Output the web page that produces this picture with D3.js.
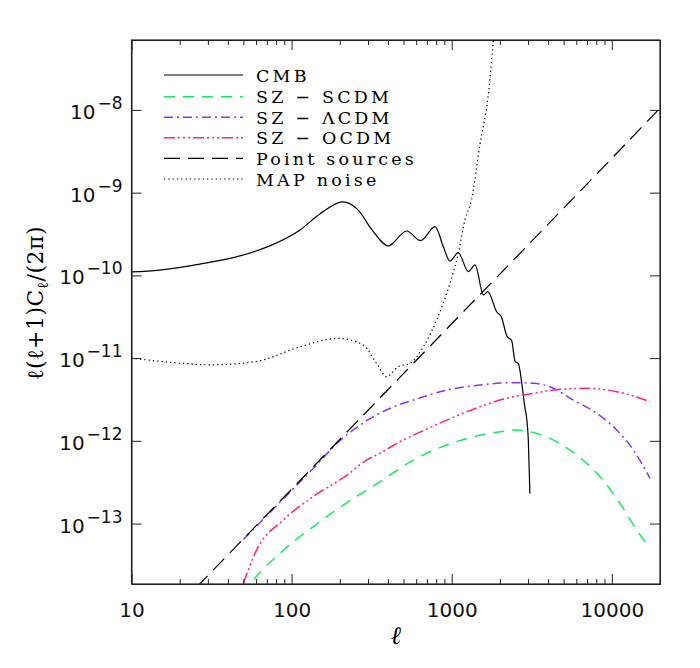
<!DOCTYPE html>
<html>
<head>
<meta charset="utf-8">
<script src="https://cdn.jsdelivr.net/npm/d3@7"></script>
<style>
  body { margin: 0; background: #fff; }
  svg { display: block; }
  .tick text { font-family: "DejaVu Sans", sans-serif; font-size: 20px; fill: #111; }
  .axis path, .axis line { stroke: #222; }
</style>
</head>
<body>
<div class="chart"></div>
<script>
// values: multipole l and l(l+1)C_l/(2pi)
var cmbL = [10, 15, 26.7, 47.5, 73, 113, 150, 209, 260, 318, 402, 523, 640, 787, 887, 975, 1099, 1271, 1400, 1578, 1680, 1910, 2050, 2210, 2370, 2490, 2610, 2740, 2870, 2940, 3010, 3080];
var cmbV = [1.10e-10, 1.16e-10, 1.37e-10, 1.72e-10, 2.27e-10, 3.54e-10, 5.52e-10, 7.73e-10, 6.18e-10, 3.54e-10, 2.27e-10, 3.44e-10, 2.63e-10, 3.88e-10, 2.22e-10, 1.49e-10, 1.88e-10, 1.11e-10, 1.34e-10, 5.79e-11, 6.35e-11, 3.63e-11, 3.1e-11, 1.85e-11, 1.62e-11, 9.1e-12, 8.6e-12, 4.95e-12, 2.47e-12, 1.87e-12, 1.02e-12, 2.3e-13];

var scdmL = [50, 56, 84.5, 136, 226, 356, 576, 931, 1500, 2200, 2430, 2870, 4110, 6040, 8450, 11270, 14330, 17330];
var scdmV = [1.35e-14, 1.9e-14, 4.36e-14, 9.14e-14, 1.84e-13, 3.2e-13, 5.86e-13, 8.9e-13, 1.17e-12, 1.32e-12, 1.35e-12, 1.32e-12, 1.07e-12, 6.73e-13, 3.68e-13, 1.75e-13, 8.34e-14, 5.0e-14];

var lcdmL = [50, 70, 97.5, 136, 200, 294, 464, 576, 931, 1500, 2430, 3240, 4110, 5750, 8050, 10740, 13650, 17330];
var lcdmV = [6.4e-14, 1.25e-13, 2.4e-13, 4.6e-13, 1.0e-12, 1.75e-12, 2.71e-12, 3.11e-12, 4.11e-12, 4.73e-12, 5.05e-12, 4.95e-12, 4.5e-12, 3.11e-12, 2.15e-12, 1.35e-12, 7.74e-13, 3.52e-13];

var ocdmL = [50, 60.4, 88.6, 136, 222, 294, 356, 473, 576, 931, 1500, 2000, 2430, 3240, 4750, 6985, 10740, 17330];
var ocdmV = [1.9e-14, 4.78e-14, 1.1e-13, 2.11e-13, 3.86e-13, 5.86e-13, 7.06e-13, 9.75e-13, 1.17e-12, 1.78e-12, 2.58e-12, 3.11e-12, 3.41e-12, 3.75e-12, 4.2e-12, 4.31e-12, 3.93e-12, 2.97e-12];

var psL = [20, 100, 1000, 10000, 20000];
var psV = [1.05e-14, 2.6e-13, 2.6e-11, 2.6e-9, 1.05e-8];

var noiseL = [10, 20, 31, 60, 113, 195, 280, 340, 392, 464, 549, 665, 806, 975, 1100, 1210, 1330, 1500, 1690, 1850];
var noiseV = [1.0e-11, 8.7e-12, 8.3e-12, 9.1e-12, 1.37e-11, 1.73e-11, 1.44e-11, 8.6e-12, 5.96e-12, 7.9e-12, 8.65e-12, 1.37e-11, 2.89e-11, 8.0e-11, 1.85e-10, 4.7e-10, 8.2e-10, 3.8e-9, 1.5e-8, 1.0e-7];

var legendNames = ["CMB", "SZ \u2212 SCDM", "SZ \u2212 \u039BCDM", "SZ \u2212 OCDM", "Point sources", "MAP noise"];
var xTickValues = [10, 100, 1000, 10000];
var yExponents = [-8, -9, -10, -11, -12, -13];

var svgWidth = 700, svgHeight = 668;
var margin = { top: 40, right: 40, bottom: 84, left: 131.5 };
var chartWidth = svgWidth - margin.left - margin.right;
var chartHeight = svgHeight - margin.top - margin.bottom;

var svg = d3.select(".chart").append("svg")
  .attr("width", svgWidth)
  .attr("height", svgHeight);

var chartGroup = svg.append("g")
  .attr("transform", `translate(${margin.left}, ${margin.top})`);

// scales
var xScale = d3.scaleLog().domain([10, 20000]).range([0, chartWidth]);
var yScale = d3.scaleLog().domain([1.86e-14, 7.0e-8]).range([chartHeight, 0]);

// clip the curves to the frame
svg.append("defs").append("clipPath").attr("id", "clip")
  .append("rect").attr("width", chartWidth).attr("height", chartHeight);

var line = d3.line()
  .x(d => xScale(d[0]))
  .y(d => yScale(d[1]))
  .curve(d3.curveMonotoneX);

var series = [
  { l: cmbL, v: cmbV, color: "#000", dash: null, width: 1.2 },
  { l: scdmL, v: scdmV, color: "#14ec64", dash: "11,8", width: 1.5 },
  { l: lcdmL, v: lcdmV, color: "#8a35f5", dash: "9,4,2,4", width: 1.5 },
  { l: ocdmL, v: ocdmV, color: "#ff1f86", dash: "11,3,2,3,2,3,2,3", width: 1.5 },
  { l: psL, v: psV, color: "#000", dash: "16,8", width: 1.2 },
  { l: noiseL, v: noiseV, color: "#000", dash: "1.3,3", width: 1.2 }
];

var curves = chartGroup.append("g").attr("clip-path", "url(#clip)");
series.forEach(function(s) {
  curves.append("path")
    .datum(d3.zip(s.l, s.v))
    .attr("d", line)
    .attr("fill", "none")
    .attr("stroke", s.color)
    .attr("stroke-width", s.width)
    .attr("stroke-dasharray", s.dash);
});

// axes, ticks pointing inward
var minorX = [];
[10, 100, 1000, 10000].forEach(function(b) {
  for (var k = 2; k <= 9; k++) { if (b * k <= 20000) minorX.push(b * k); }
});

chartGroup.append("g").attr("class", "axis")
  .attr("transform", `translate(0, ${chartHeight})`)
  .call(d3.axisBottom(xScale).tickValues(xTickValues).tickSizeInner(-10).tickSizeOuter(0)
    .tickPadding(19).tickFormat(d3.format("d")));
chartGroup.append("g").attr("class", "axis")
  .attr("transform", `translate(0, ${chartHeight})`)
  .call(d3.axisBottom(xScale).tickValues(minorX).tickSizeInner(-5).tickSizeOuter(0).tickFormat(""));
chartGroup.append("g").attr("class", "axis")
  .call(d3.axisTop(xScale).tickValues(xTickValues).tickSizeInner(-10).tickSizeOuter(0).tickFormat(""));
chartGroup.append("g").attr("class", "axis")
  .call(d3.axisTop(xScale).tickValues(minorX).tickSizeInner(-5).tickSizeOuter(0).tickFormat(""));

var yTicks = yExponents.map(e => Math.pow(10, e));
chartGroup.append("g").attr("class", "axis")
  .call(d3.axisLeft(yScale).tickValues(yTicks).tickSizeInner(-10).tickSizeOuter(0).tickFormat(""));
chartGroup.append("g").attr("class", "axis")
  .attr("transform", `translate(${chartWidth}, 0)`)
  .call(d3.axisRight(yScale).tickValues(yTicks).tickSizeInner(-10).tickSizeOuter(0).tickFormat(""));

// frame
chartGroup.append("rect")
  .attr("width", chartWidth).attr("height", chartHeight)
  .attr("fill", "none").attr("stroke", "#222").attr("stroke-width", 1.2);

// y tick labels 10^-n
yExponents.forEach(function(e) {
  var t = chartGroup.append("text")
    .attr("x", -9)
    .attr("y", yScale(Math.pow(10, e)) + 9)
    .attr("text-anchor", "end")
    .style("font-family", "DejaVu Sans, sans-serif")
    .style("fill", "#111");
  t.append("tspan").style("font-size", "20px").text("10");
  t.append("tspan").attr("dy", -10).attr("dx", 2).style("font-size", "17px").text("\u2212" + (-e));
});

// axis titles
svg.append("text")
  .attr("x", margin.left + chartWidth / 2)
  .attr("y", 644)
  .attr("text-anchor", "middle")
  .style("font-family", "DejaVu Serif, serif")
  .style("font-style", "italic")
  .style("font-size", "25px")
  .text("\u2113");

var yTitle = svg.append("text")
  .attr("transform", "translate(43, 303) rotate(-90)")
  .attr("text-anchor", "middle")
  .style("font-family", "DejaVu Serif, serif")
  .style("font-size", "22px")
  .style("letter-spacing", "0.5px");
yTitle.append("tspan").text("\u2113(\u2113+1)C");
yTitle.append("tspan").attr("dy", 5).style("font-size", "15px").text("\u2113");
yTitle.append("tspan").attr("dy", -5).text("/(2\u03C0)");

// legend
var legendRows = [75, 96.7, 117.3, 137.7, 158.3, 179];
var legend = svg.append("g");
series.forEach(function(s, i) {
  legend.append("line")
    .attr("x1", 164).attr("x2", 243)
    .attr("y1", legendRows[i]).attr("y2", legendRows[i])
    .attr("stroke", s.color)
    .attr("stroke-width", s.width)
    .attr("stroke-dasharray", s.dash);
  legend.append("text")
    .attr("x", 256)
    .attr("y", legendRows[i] + 6.5)
    .style("font-family", "DejaVu Serif, serif")
    .style("font-size", "17.5px")
    .style("letter-spacing", "3.2px")
    .text(legendNames[i]);
});
</script>
</body>
</html>
